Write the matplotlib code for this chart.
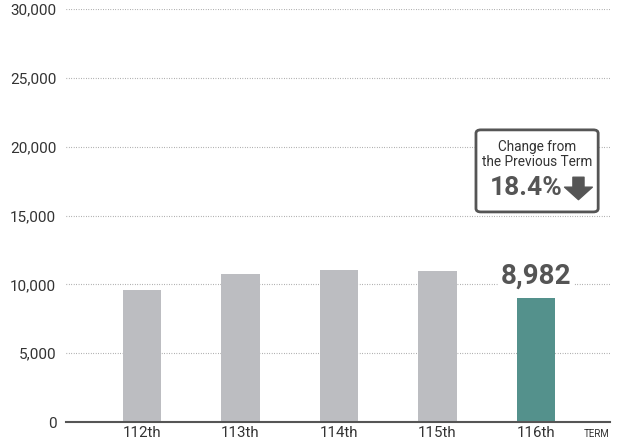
import matplotlib.pyplot as plt
from matplotlib.patches import FancyBboxPatch

terms = ["112th", "113th", "114th", "115th", "116th"]
values = [9600, 10750, 11050, 10980, 8982]
bar_colors = ["#bcbdc1", "#bcbdc1", "#bcbdc1", "#bcbdc1", "#54918c"]
yticks = [0, 5000, 10000, 15000, 20000, 25000, 30000]
change_pct = 18.4

plt.rcParams["font.family"] = ["Roboto", "DejaVu Sans"]

fig = plt.figure(figsize=(6.24, 4.47), dpi=100)
ax = fig.add_axes([66 / 624, 25 / 447, 544 / 624, 413 / 447])

x = list(range(len(terms)))
ax.bar(x, values, width=0.39, color=bar_colors, zorder=2)

ax.set_ylim(0, 30000)
ax.set_xlim(-0.77, 4.75)
ax.set_yticks(yticks)
ax.set_yticklabels([f"{v:,}" for v in yticks])
ax.set_xticks(x)
ax.set_xticklabels(terms)
ax.tick_params(axis="both", length=0, colors="#333333")
ax.tick_params(axis="y", pad=7, labelsize=11)
ax.tick_params(axis="x", pad=3, labelsize=10.8)

ax.grid(axis="y", linestyle=(0, (0.6, 1.6)), color="#8a8a8a", linewidth=0.8, zorder=0)
for s in ["left", "right", "top"]:
    ax.spines[s].set_visible(False)
ax.spines["bottom"].set_color("#555555")
ax.spines["bottom"].set_linewidth(1.5)
ax.spines["bottom"].set_zorder(3)

# value label on the latest bar
ax.text(x[-1], 10610, f"{values[-1]:,}", ha="center", va="center",
        fontsize=20, fontweight="bold", color="#555555", zorder=4,
        bbox=dict(facecolor="white", edgecolor="none", pad=2))

ax.text(1.0, -0.028, "TERM", transform=ax.transAxes, ha="right", va="center",
        fontsize=7, color="#333333")

# change box
box = FancyBboxPatch((3.39, 15260), 1.24, 5960, boxstyle="round,pad=0,rounding_size=0.05",
                     facecolor="white", edgecolor="#555555", linewidth=2,
                     mutation_aspect=5000, zorder=5)
ax.add_patch(box)
ax.text(4.01, 19950, "Change from", ha="center", va="center", fontsize=9.8,
        color="#333333", zorder=6)
ax.text(4.01, 18850, "the Previous Term", ha="center", va="center", fontsize=9.8,
        color="#333333", zorder=6)
ax.text(4.265, 17000, f"{change_pct}%", ha="right", va="center", fontsize=19,
        fontweight="bold", color="#555555", zorder=6)
ax.annotate("", xy=(4.43, 16150), xytext=(4.43, 17780),
            arrowprops=dict(arrowstyle="simple,head_length=0.9,head_width=2.0,tail_width=0.8",
                            mutation_scale=10, color="#555555", shrinkA=0, shrinkB=0),
            zorder=6)

fig.savefig("out.png", dpi=100)
